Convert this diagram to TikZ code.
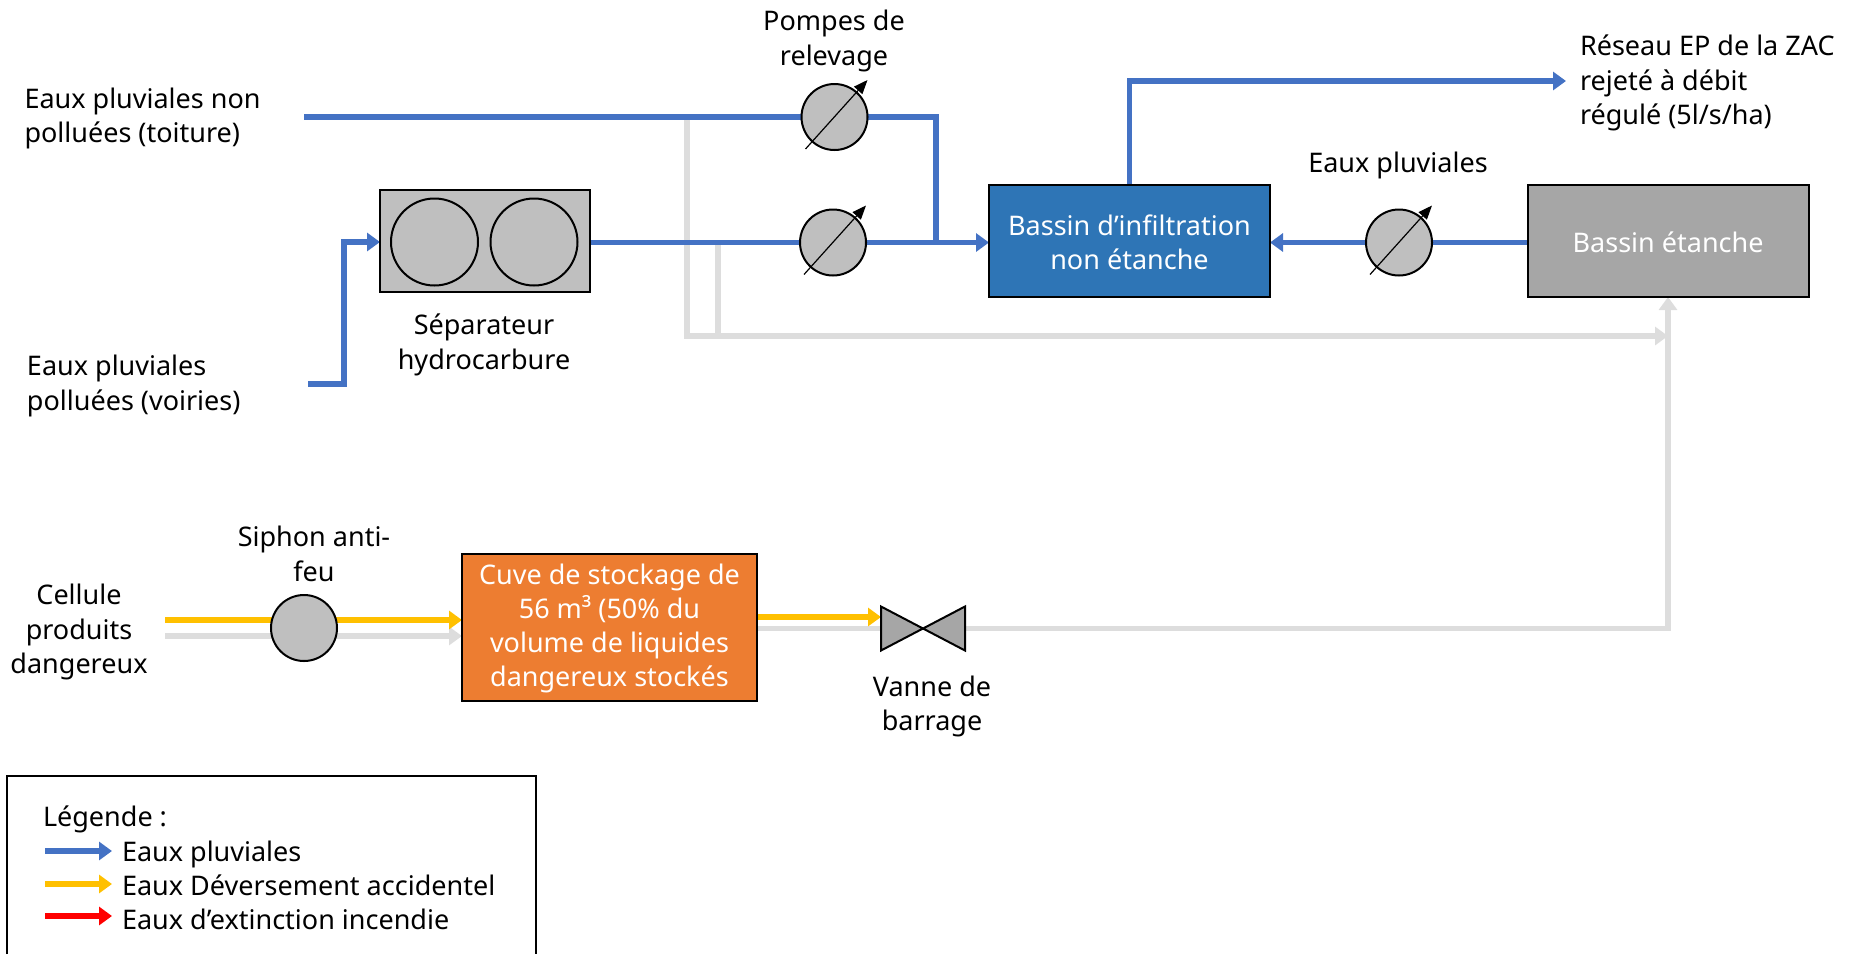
\documentclass[tikz,border=0pt]{standalone}
\usepackage{fontspec}
\setmainfont{Noto Sans}
\usetikzlibrary{arrows.meta,calc}
\definecolor{cblue}{HTML}{4472C4}
\definecolor{cyellow}{HTML}{FFC000}
\definecolor{cgrey}{HTML}{DDDDDD}
\definecolor{cbox}{HTML}{2E75B6}
\definecolor{cgbox}{HTML}{A6A6A6}
\definecolor{corange}{HTML}{ED7D31}
\definecolor{cpump}{HTML}{BFBFBF}
\pgfdeclarelayer{lines}
\pgfsetlayers{lines,main}
\tikzset{
  x=1pt,y=-1pt,
  every node/.style={inner sep=0pt,outer sep=0pt},
  txt/.style={align=center,text=black,font=\fontsize{27}{34.3}\selectfont},
  txtl/.style={txt,align=left,anchor=west},
  wtxt/.style={txt,text=white},
  box/.style={draw=black,line width=2pt,anchor=north west},
  pumpnode/.style={circle,draw=black,line width=2pt,fill=cpump,minimum size=66pt},
  gauge/.style={draw=black,line width=1.2pt,-{Triangle[length=14pt,width=11pt]}},
  flow/.style={line width=5.2pt,-{Triangle[length=13pt,width=18pt]}},
  plain/.style={line width=5.2pt},
  bluef/.style={flow,draw=cblue,color=cblue},
  yellowf/.style={flow,color=cyellow},
  greyf/.style={flow,color=cgrey},
}
\newcommand{\boxat}[6]{\node[box,fill=#5,minimum width=#3pt,minimum height=#4pt] (#6) at (#1,#2) {};}
\begin{document}
\begin{tikzpicture}
\useasboundingbox (0,0) rectangle (1857,954);
% boxes
\boxat{380}{190}{210}{102}{cpump}{sep}
\boxat{989}{185}{281}{112}{cbox}{infil}
\boxat{1527.6}{185}{281}{112}{cgbox}{etanche}
\boxat{462}{554}{295}{147}{corange}{cuve}
\node[circle,draw=black,line width=2pt,fill=cpump,minimum size=87pt] (sepa) at (434.5,242) {};
\node[circle,draw=black,line width=2pt,fill=cpump,minimum size=87pt] (sepb) at (534,242) {};
% pumps
\node[pumpnode] (p1) at (834.5,117) {};
\node[pumpnode] (p2) at (833,242.5) {};
\node[pumpnode] (p3) at (1399,242.5) {};
\node[pumpnode] (siphon) at (304,628) {};
\draw[gauge] ($(p1)+(-29,32)$) -- ($(p1)+(33,-37)$);
\draw[gauge] ($(p2)+(-29,32)$) -- ($(p2)+(33,-37)$);
\draw[gauge] ($(p3)+(-29,32)$) -- ($(p3)+(33,-37)$);
% valve
\node[minimum width=84pt,minimum height=44pt] (valve) at (923,628.5) {};
\draw[draw=black,line width=2pt,fill=cgbox,line join=miter] (valve.north west) -- (valve.south east) -- (valve.north east) -- (valve.south west) -- cycle;
% free ends
\coordinate (roof) at (304,117);
\coordinate (road) at (308,384);
\coordinate (gridout) at (1566,81);
\coordinate (gjoin) at (1668,336);
\coordinate (yin) at (165,620);
\coordinate (gin) at (165,636);
\coordinate (gb1) at (687,117);
\coordinate (gb2) at (718,242);
\coordinate (colx) at (936,117);
\begin{pgfonlayer}{lines}
  % grey network
  \draw[greyf] (gb1) -- (gb1 |- gjoin) -- (gjoin);
  \draw[plain,color=cgrey] (gb2) -- (gb2 |- gjoin);
  \draw[greyf] (valve.east) -- (valve.east -| gjoin) -- (gjoin |- etanche.south);
  \draw[plain,color=cgrey] (cuve.east |- valve) -- (valve);
  \draw[greyf] (gin) -- (gin -| cuve.west);
  % blue network
  \draw[plain,color=cblue] (roof) -- (p1);
  \draw[plain,color=cblue] (p1) -- (colx) -- (colx |- p2);
  \draw[bluef] (sep.east |- p2) -- (p2) -- (infil.west |- p2);
  \draw[bluef] (road) -- (344,384) -- (344,242) -- (sep.west |- sepa);
  \draw[bluef] (infil.north) -- (infil.north |- gridout) -- (gridout);
  \draw[bluef] (etanche.west |- p3) -- (p3) -- (infil.east |- p3);
  % yellow
  \draw[yellowf] (yin) -- (yin -| cuve.west);
  \draw[yellowf] (cuve.east |- 0,617) -- (valve.west |- 0,617);
\end{pgfonlayer}
% texts
\node[txt] (t1) at (834,41) {Pompes de\\relevage};
\node[txtl] (t2) at (24.5,118.5) {Eaux pluviales non\\polluées (toiture)};
\node[txtl] (t3) at (27,386) {Eaux pluviales\\polluées (voiries)};
\node[txt] (t4) at (484,345) {Séparateur\\hydrocarbure};
\node[txtl] (t5) at (1580,83) {Réseau EP de la ZAC\\rejeté à débit\\régulé (5l/s/ha)};
\node[txt] (t6) at (1398,165.5) {Eaux pluviales};
\node[wtxt] (t7) at ($(infil.center)+(0,1.5)$) {Bassin d’infiltration\\non étanche};
\node[wtxt] (t8) at ($(etanche.center)+(0,1)$) {Bassin étanche};
\node[txt] (t9) at (314,554) {Siphon anti-\\feu};
\node[txt] (t10) at (79,632) {Cellule\\produits\\dangereux};
\node[wtxt] (t11) at ($(cuve.center)+(0,1)$) {Cuve de stockage de\\56 m³ (50\% du\\volume de liquides\\dangereux stockés};
\node[txt] (t12) at (932,706.5) {Vanne de\\barrage};
% legend
\draw[black,line width=2pt] (6.5,954) -- (6.5,776) -- (536,776) -- (536,954);
\coordinate (l1a) at (45,851); \coordinate (l1b) at (112,851);
\coordinate (l2a) at (45,884); \coordinate (l2b) at (112,884);
\coordinate (l3a) at (45,916); \coordinate (l3b) at (112,916);
\draw[bluef] (l1a) -- (l1b);
\draw[yellowf] (l2a) -- (l2b);
\draw[flow,color=red] (l3a) -- (l3b);
\node[txtl] (l0) at (43,819) {Légende :};
\node[txtl] (l1) at (122,854) {Eaux pluviales};
\node[txtl] (l2) at (122,885.5) {Eaux Déversement accidentel};
\node[txtl] (l3) at (122,919.5) {Eaux d’extinction incendie};
\end{tikzpicture}
\end{document}
